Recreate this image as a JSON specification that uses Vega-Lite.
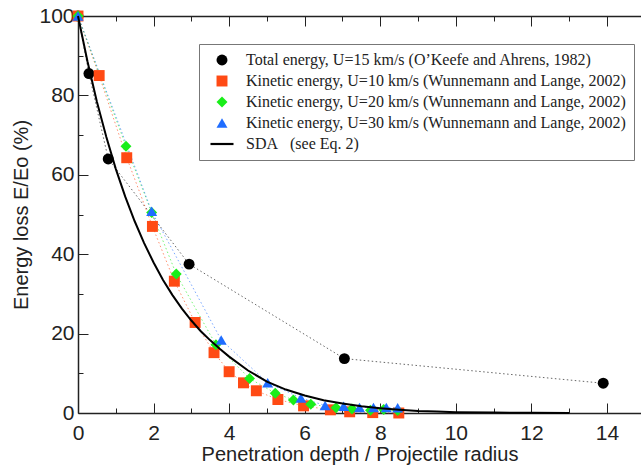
{
  "$schema": "https://vega.github.io/schema/vega-lite/v6.json",
  "width": 563,
  "height": 397,
  "autosize": {"type": "none"},
  "padding": {"left": 78, "top": 16, "right": 0, "bottom": 56},
  "background": "white",
  "config": {
    "view": {"stroke": null},
    "axis": {
      "labelFont": "Liberation Sans", "titleFont": "Liberation Sans",
      "labelFontSize": 21, "titleFontSize": 20, "titleFontWeight": "normal",
      "labelColor": "#222", "titleColor": "#222", "domainColor": "#222", "tickColor": "#222",
      "domainWidth": 1.5, "tickWidth": 1, "grid": false
    }
  },
  "datasets": {
    "pts": [
      {"s": "T15", "x": 0, "y": 100}, {"s": "T15", "x": 0.29, "y": 85.5}, {"s": "T15", "x": 0.8, "y": 64},
      {"s": "T15", "x": 2.94, "y": 37.5}, {"s": "T15", "x": 7.05, "y": 13.7}, {"s": "T15", "x": 13.9, "y": 7.5},
      {"s": "K10", "x": 0, "y": 100}, {"s": "K10", "x": 0.56, "y": 85}, {"s": "K10", "x": 1.29, "y": 64.3},
      {"s": "K10", "x": 1.97, "y": 47}, {"s": "K10", "x": 2.55, "y": 33.2}, {"s": "K10", "x": 3.1, "y": 22.8},
      {"s": "K10", "x": 3.6, "y": 15.2}, {"s": "K10", "x": 4.0, "y": 10.4}, {"s": "K10", "x": 4.38, "y": 7.6},
      {"s": "K10", "x": 4.72, "y": 5.6}, {"s": "K10", "x": 5.29, "y": 3.4}, {"s": "K10", "x": 5.97, "y": 1.8},
      {"s": "K10", "x": 6.68, "y": 0.8}, {"s": "K10", "x": 7.19, "y": 0.3}, {"s": "K10", "x": 7.8, "y": 0.1},
      {"s": "K10", "x": 8.49, "y": 0},
      {"s": "K20", "x": 0, "y": 100}, {"s": "K20", "x": 1.27, "y": 67.2}, {"s": "K20", "x": 1.95, "y": 50.5},
      {"s": "K20", "x": 2.6, "y": 35}, {"s": "K20", "x": 3.65, "y": 17.2}, {"s": "K20", "x": 4.54, "y": 8.7},
      {"s": "K20", "x": 5.22, "y": 5.0}, {"s": "K20", "x": 5.7, "y": 3.3}, {"s": "K20", "x": 6.16, "y": 2.2},
      {"s": "K20", "x": 6.83, "y": 1.3}, {"s": "K20", "x": 7.25, "y": 1.0}, {"s": "K20", "x": 7.74, "y": 0.7},
      {"s": "K20", "x": 8.09, "y": 0.9}, {"s": "K20", "x": 8.46, "y": 0.6},
      {"s": "K30", "x": 0, "y": 100}, {"s": "K30", "x": 1.95, "y": 50.8}, {"s": "K30", "x": 3.79, "y": 18.4},
      {"s": "K30", "x": 5.02, "y": 7.6}, {"s": "K30", "x": 5.9, "y": 3.8}, {"s": "K30", "x": 6.54, "y": 1.9},
      {"s": "K30", "x": 7.03, "y": 1.7}, {"s": "K30", "x": 7.45, "y": 1.4}, {"s": "K30", "x": 7.82, "y": 1.4},
      {"s": "K30", "x": 8.16, "y": 1.4}, {"s": "K30", "x": 8.46, "y": 1.3}
    ],
    "sda": [
      {"x": 0, "y": 100}, {"x": 0.25, "y": 88.6}, {"x": 0.5, "y": 78.4}, {"x": 0.75, "y": 69.5},
      {"x": 1, "y": 61.5}, {"x": 1.25, "y": 54.5}, {"x": 1.5, "y": 48.3}, {"x": 1.75, "y": 42.8},
      {"x": 2, "y": 37.9}, {"x": 2.25, "y": 33.5}, {"x": 2.5, "y": 29.7}, {"x": 2.75, "y": 26.3},
      {"x": 3, "y": 23.3}, {"x": 3.25, "y": 20.6}, {"x": 3.5, "y": 18.3}, {"x": 3.75, "y": 16.2},
      {"x": 4, "y": 14.2}, {"x": 4.5, "y": 10.7}, {"x": 5, "y": 7.9}, {"x": 5.5, "y": 5.9},
      {"x": 6, "y": 4.4}, {"x": 6.5, "y": 3.2}, {"x": 7, "y": 2.4}, {"x": 7.5, "y": 1.7},
      {"x": 8, "y": 1.2}, {"x": 8.5, "y": 0.8}, {"x": 9, "y": 0.5}, {"x": 9.5, "y": 0.35},
      {"x": 10, "y": 0.2}, {"x": 11, "y": 0.1}, {"x": 12, "y": 0.05}, {"x": 13, "y": 0}
    ]
  },
  "encoding": {
    "x": {
      "field": "x", "type": "quantitative",
      "scale": {"domain": [0, 14.9], "nice": false, "zero": false},
      "axis": {
        "orient": "bottom",
        "title": "Penetration depth / Projectile radius",
        "values": [0,1,2,3,4,5,6,7,8,9,10,11,12,13,14],
        "labelExpr": "datum.value % 2 === 0 ? datum.label : ''",
        "tickSize": {"condition": {"test": "datum.value % 2 === 0", "value": -10}, "value": -5},
        "labelPadding": 19,
        "labelFlush": false,
        "titlePadding": 1
      }
    },
    "y": {
      "field": "y", "type": "quantitative",
      "scale": {"domain": [0, 100], "nice": false},
      "axis": {
        "title": "Energy loss E/Eo (%)",
        "values": [0,10,20,30,40,50,60,70,80,90,100],
        "labelExpr": "datum.value % 20 === 0 ? datum.label : ''",
        "tickSize": {"condition": {"test": "datum.value % 20 === 0", "value": -10}, "value": -5},
        "labelPadding": 14,
        "labelFlush": false,
        "titlePadding": 7
      }
    }
  },
  "layer": [
    {
      "data": {"name": "pts"},
      "mark": {"type": "line", "strokeDash": [1.5, 2.5], "strokeWidth": 1, "opacity": 0.6},
      "encoding": {
        "x": {
          "field": "x", "type": "quantitative",
          "scale": {"domain": [0, 14.9], "nice": false, "zero": false},
          "axis": {
            "orient": "top", "title": null, "labels": false,
            "values": [0,1,2,3,4,5,6,7,8,9,10,11,12,13,14],
            "tickSize": {"condition": {"test": "datum.value % 2 === 0", "value": -10}, "value": -5}
          }
        },
        "color": {
          "field": "s", "type": "nominal",
          "scale": {"domain": ["T15", "K10", "K20", "K30", "SDA"], "range": ["#000000", "#ff4a14", "#19ee19", "#1f6dff", "#000000"]},
          "legend": null
        }
      }
    },
    {
      "data": {"name": "pts"},
      "mark": {"type": "point", "filled": true, "opacity": 1},
      "encoding": {
        "color": {
          "field": "s", "type": "nominal",
          "scale": {"domain": ["T15", "K10", "K20", "K30", "SDA"], "range": ["#000000", "#ff4a14", "#19ee19", "#1f6dff", "#000000"]},
          "legend": {
            "title": null, "orient": "none", "legendX": 121, "legendY": 28,
            "padding": 8, "rowPadding": 5, "strokeColor": "#777", "fillColor": "white",
            "labelFont": "Liberation Serif", "labelFontSize": 16, "labelColor": "#222",
            "symbolSize": 110, "labelOffset": 16, "symbolOffset": 7, "labelLimit": 400,
            "labelExpr": "datum.value === 'T15' ? 'Total energy, U=15 km/s (O’Keefe and Ahrens, 1982)' : datum.value === 'K10' ? 'Kinetic energy, U=10 km/s (Wunnemann and Lange, 2002)' : datum.value === 'K20' ? 'Kinetic energy, U=20 km/s (Wunnemann and Lange, 2002)' : datum.value === 'K30' ? 'Kinetic energy, U=30 km/s (Wunnemann and Lange, 2002)' : 'SDA\u00a0\u00a0\u00a0(see Eq. 2)'"
          }
        },
        "shape": {
          "field": "s", "type": "nominal",
          "scale": {"domain": ["T15", "K10", "K20", "K30", "SDA"], "range": ["circle", "square", "diamond", "triangle-up", "M -2.1,-0.2 H 2.1 V 0.2 H -2.1 Z"]},
          "legend": null
        },
        "size": {
          "field": "s", "type": "nominal",
          "scale": {"domain": ["T15", "K10", "K20", "K30", "SDA"], "range": [120, 120, 150, 170, 100]},
          "legend": null
        }
      }
    },
    {
      "data": {"name": "sda"},
      "mark": {"type": "line", "color": "black", "strokeWidth": 2},
      "encoding": {
        "x": {
          "field": "x", "type": "quantitative",
          "scale": {"domain": [0, 14.9], "nice": false, "zero": false},
          "axis": null
        }
      }
    }
  ],
  "resolve": {"axis": {"x": "independent"}, "legend": {"color": "independent", "shape": "independent", "size": "independent"}}
}
